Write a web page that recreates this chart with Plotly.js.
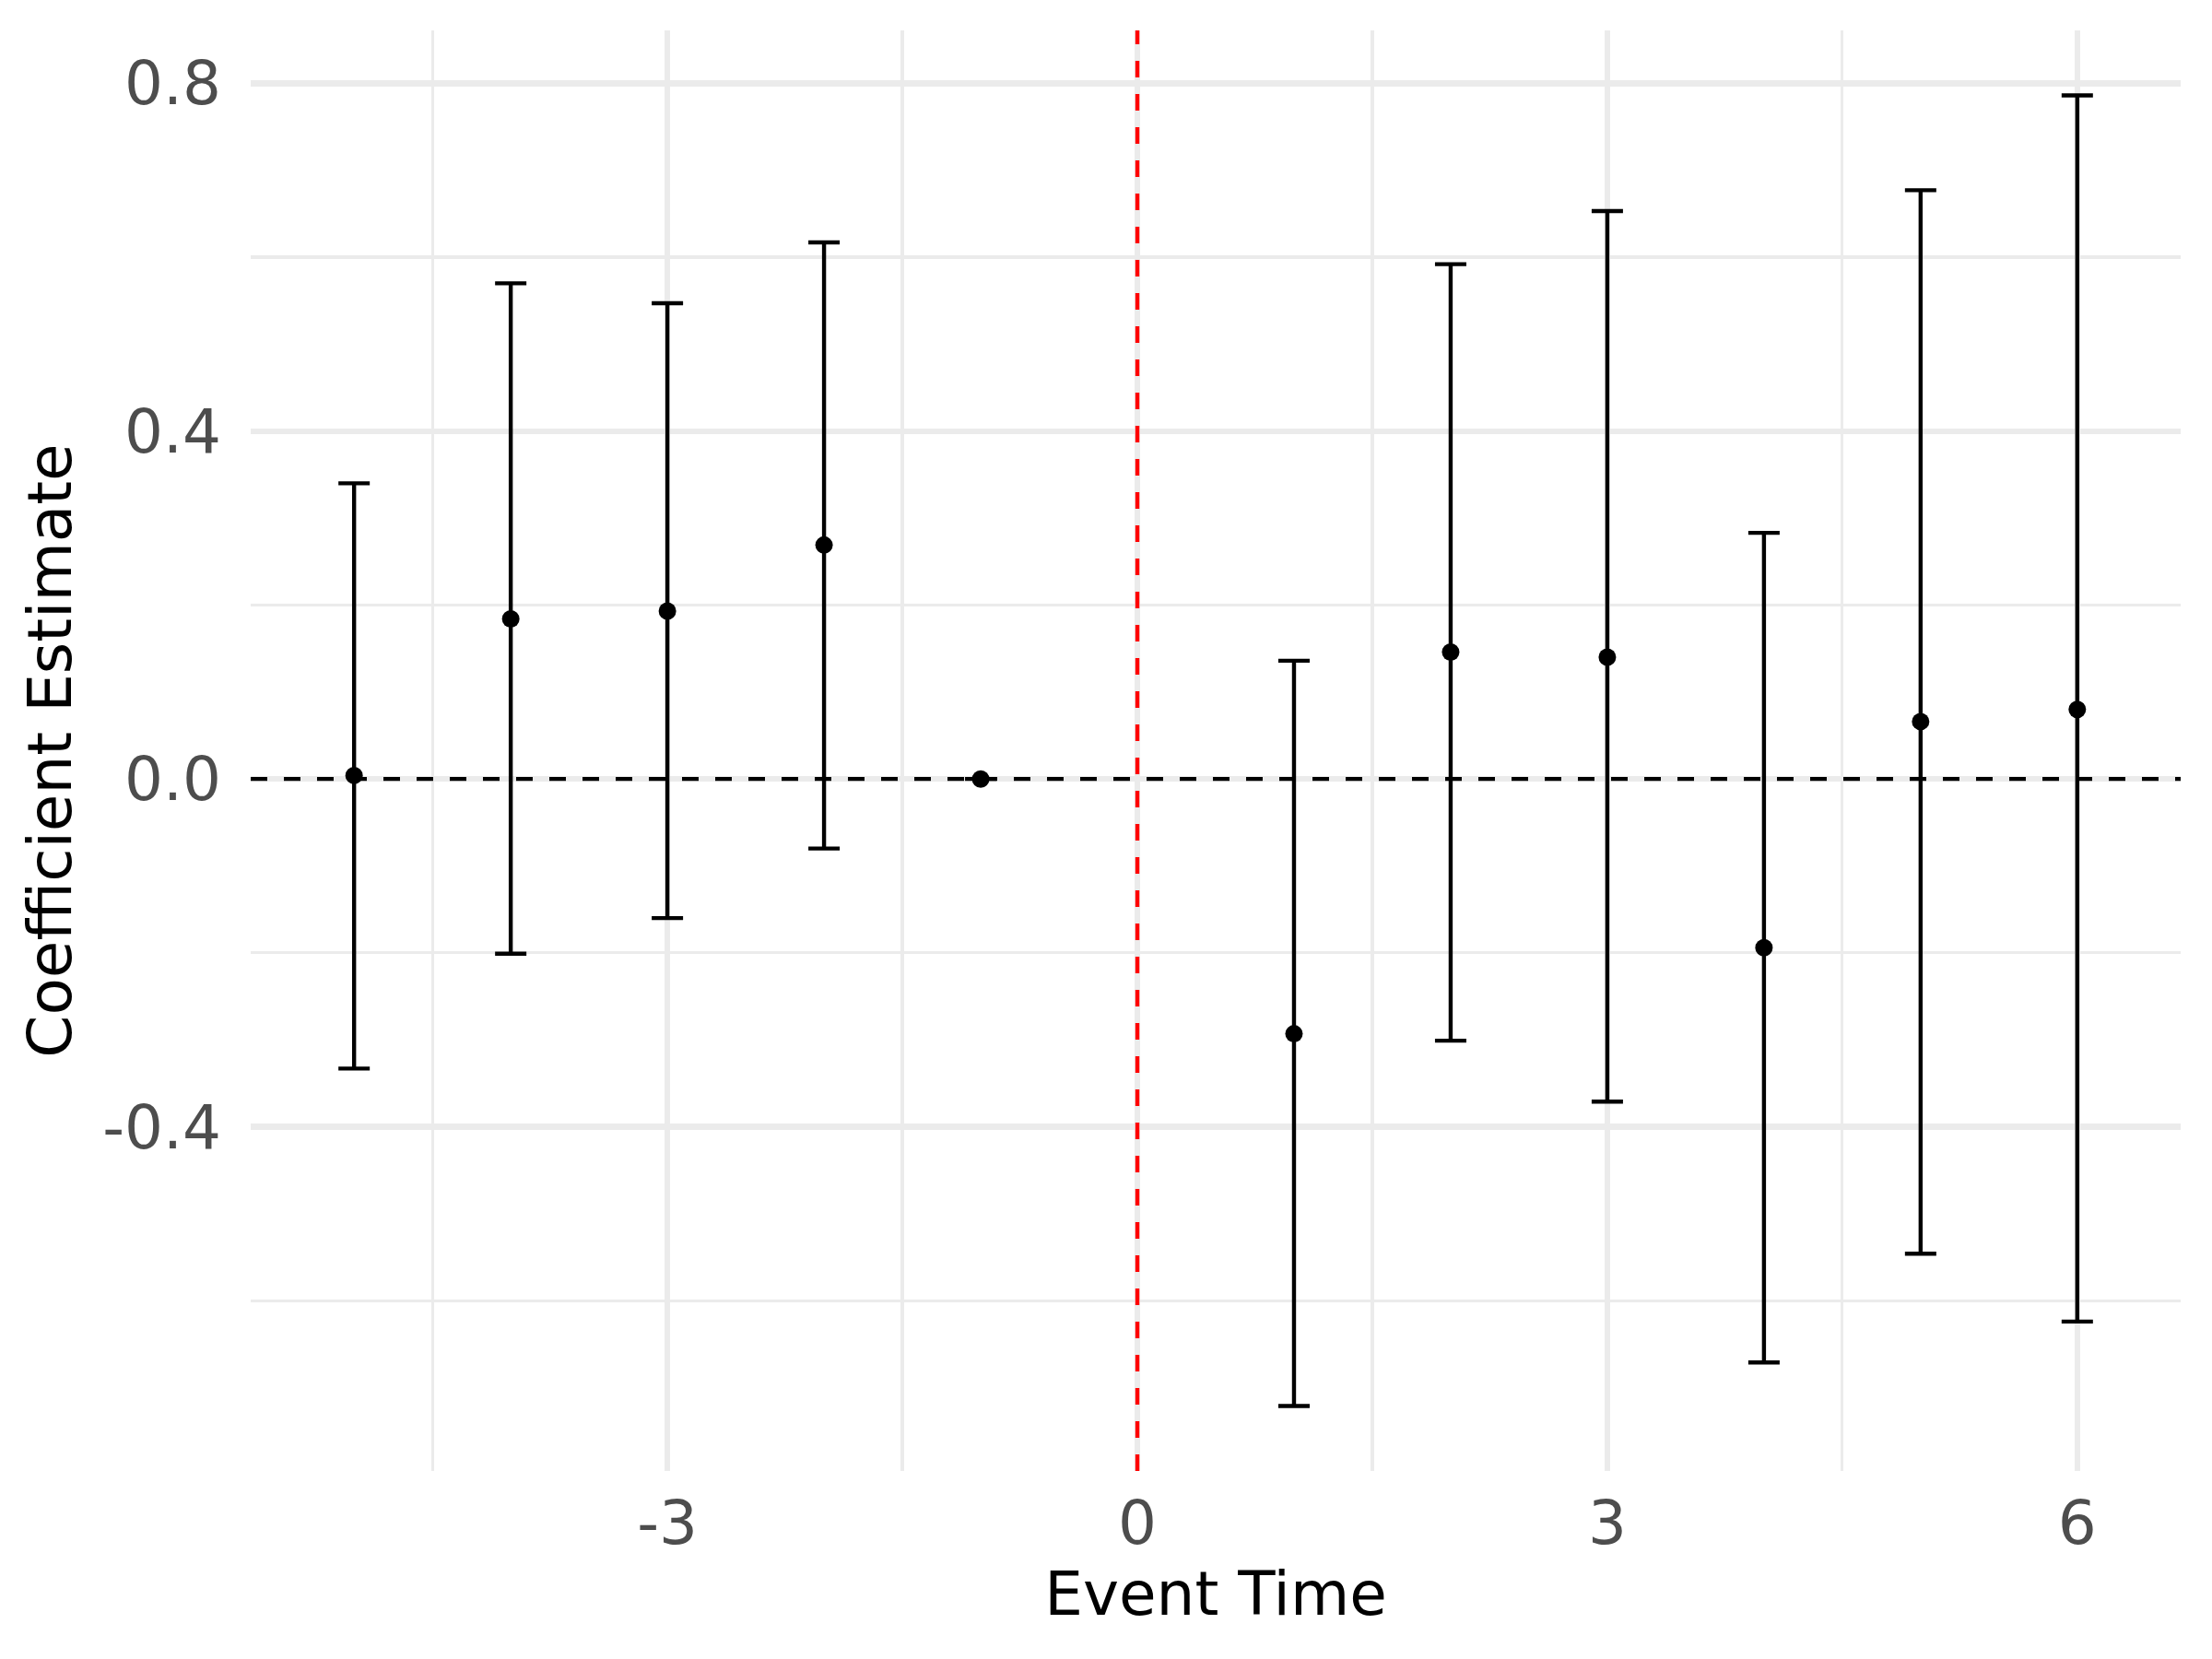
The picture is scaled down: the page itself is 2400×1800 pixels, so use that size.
<!DOCTYPE html>
<html>
<head>
<meta charset="utf-8">
<script src="https://cdn.plot.ly/plotly-3.0.1.min.js"></script>
<style>
  html, body { margin: 0; padding: 0; background: #ffffff; }
  #chart { width: 2400px; height: 1800px; }
</style>
</head>
<body>
<div id="chart"></div>
<script>
// Event-study coefficients
const eventTime = [-5, -4, -3, -2, -1, 1, 2, 3, 4, 5, 6];
const estimate  = [0.004, 0.184, 0.193, 0.269, 0.000, -0.293, 0.146, 0.140, -0.194, 0.066, 0.080];
const ciLow     = [-0.333, -0.201, -0.160, -0.080, 0.000, -0.721, -0.301, -0.371, -0.671, -0.546, -0.624];
const ciHigh    = [0.340, 0.570, 0.547, 0.617, 0.000, 0.136, 0.592, 0.653, 0.283, 0.677, 0.786];

const xTickVals = [-3, 0, 3, 6];
const xTickText = ['-3', '0', '3', '6'];
const yTickVals = [-0.4, 0.0, 0.4, 0.8];
const yTickText = ['-0.4', '0.0', '0.4', '0.8'];

const xTitle = 'Event Time';
const yTitle = 'Coefficient Estimate';

const errPlus  = estimate.map((v, i) => ciHigh[i] - v);
const errMinus = estimate.map((v, i) => v - ciLow[i]);

const FONT = 'DejaVu Sans, Verdana, sans-serif';
const GRID = '#EBEBEB';

const trace = {
  type: 'scatter',
  mode: 'markers',
  x: eventTime,
  y: estimate,
  marker: { color: '#000000', size: 19 },
  error_y: {
    type: 'data',
    symmetric: false,
    array: errPlus,
    arrayminus: errMinus,
    color: '#000000',
    thickness: 4.4,
    width: 17
  },
  showlegend: false,
  hoverinfo: 'x+y'
};

const layout = {
  width: 2400,
  height: 1800,
  paper_bgcolor: '#ffffff',
  plot_bgcolor: '#ffffff',
  margin: { l: 272, r: 34, t: 33, b: 204, pad: 0 },
  font: { family: FONT, color: '#4D4D4D', size: 66 },
  xaxis: {
    range: [-5.66, 6.66],
    tickvals: xTickVals,
    ticktext: xTickText,
    showgrid: true,
    gridcolor: GRID,
    gridwidth: 6.4,
    zeroline: false,
    showline: false,
    ticks: '',
    ticklabelstandoff: 12,
    tickfont: { family: FONT, size: 66, color: '#4D4D4D' },
    minor: { dtick: 1.5, tick0: 0, showgrid: true, gridcolor: GRID, gridwidth: 3.2, ticks: '' },
    title: { text: xTitle, font: { family: FONT, size: 66, color: '#000000' }, standoff: 8 },
    automargin: false
  },
  yaxis: {
    range: [-0.7958, 0.8608],
    tickvals: yTickVals,
    ticktext: yTickText,
    showgrid: true,
    gridcolor: GRID,
    gridwidth: 6.4,
    zeroline: false,
    showline: false,
    ticks: '',
    ticklabelstandoff: 31,
    tickfont: { family: FONT, size: 66, color: '#4D4D4D' },
    minor: { dtick: 0.2, tick0: 0, showgrid: true, gridcolor: GRID, gridwidth: 3.2, ticks: '' },
    title: { text: yTitle, font: { family: FONT, size: 66, color: '#000000' }, standoff: 12 },
    automargin: false
  },
  shapes: [
    {
      type: 'line', xref: 'x', yref: 'paper',
      x0: 0, x1: 0, y0: 0, y1: 1,
      line: { color: '#FF0000', width: 4.4, dash: '18px,18px' },
      layer: 'above'
    },
    {
      type: 'line', xref: 'paper', yref: 'y',
      x0: 0, x1: 1, y0: 0, y1: 0,
      line: { color: '#000000', width: 4.4, dash: '18px,18px' },
      layer: 'above'
    }
  ]
};

Plotly.newPlot('chart', [trace], layout, { displayModeBar: false, staticPlot: true });
</script>
</body>
</html>
